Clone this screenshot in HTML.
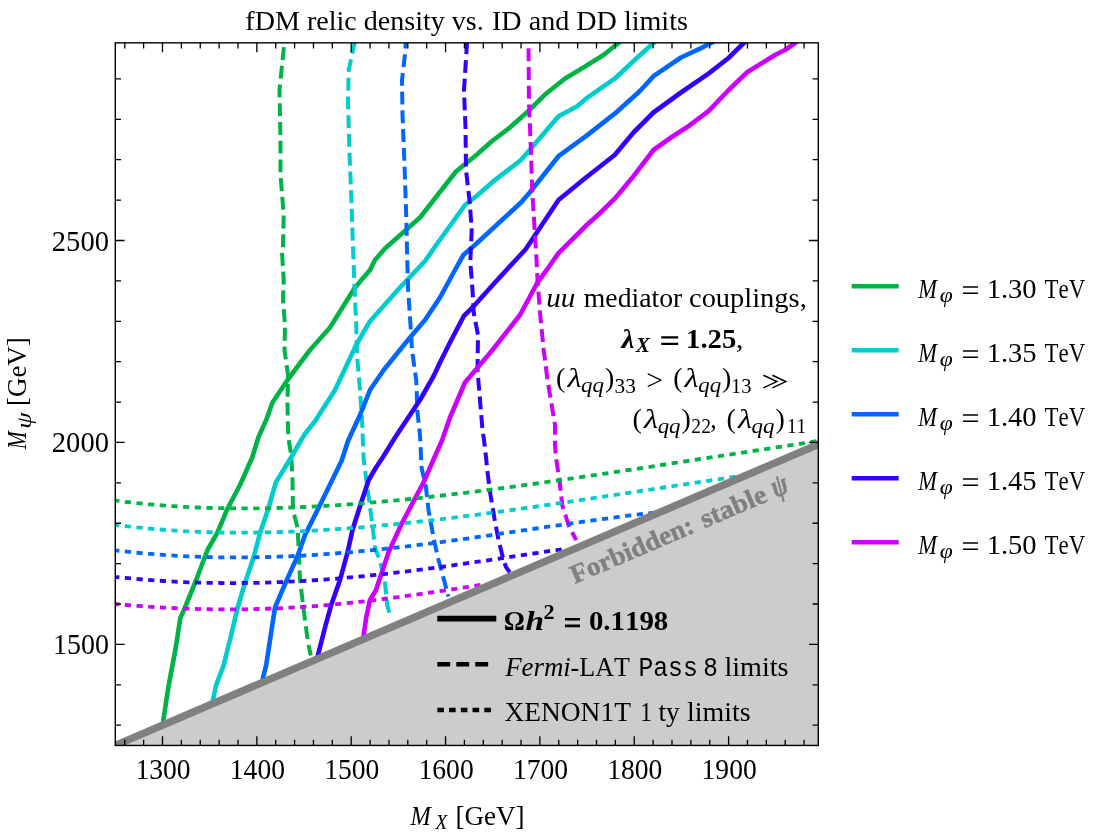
<!DOCTYPE html>
<html><head><meta charset="utf-8"><title>fDM relic density</title>
<style>html,body{margin:0;padding:0;background:#fff}svg{display:block;will-change:transform}text{font-family:"Liberation Serif",serif;fill:#000;font-kerning:none}.it{font-style:italic}.b{font-weight:bold}.sans{font-family:"Liberation Sans",sans-serif}.mono{font-family:"Liberation Mono",monospace}</style></head><body>
<svg width="1104" height="840" viewBox="0 0 1104 840">
<rect width="1104" height="840" fill="#fff"/>
<defs><clipPath id="cp"><rect x="115.3" y="42.9" width="703.0" height="702.6"/></clipPath></defs>
<g clip-path="url(#cp)" fill="none" stroke-linejoin="round">
<path d="M284.5,40.0 L284.3,43.0 L279.5,90.0 L280.5,140.0 L280.5,175.0 L283.7,215.0 L283.0,246.0 L282.0,252.5 L283.7,280.0 L283.0,300.0 L285.0,325.0 L284.5,350.0 L288.0,375.0 L287.5,405.0 L288.0,430.0 L288.7,440.0 L291.2,455.0 L292.5,480.0 L293.0,510.0 L297.5,527.5 L298.7,550.0 L300.0,580.0 L303.7,610.0 L308.0,642.5 L310.8,655.5" stroke="#00b347" stroke-width="4.0" stroke-dasharray="12.90 5.85" stroke-dashoffset="11.55"/>
<path d="M161.8,732.0 L163.0,722.5 L168.3,687.5 L175.8,647.5 L180.3,618.0 L185.0,607.5 L196.2,580.0 L207.5,550.0 L217.5,532.5 L227.5,508.7 L240.0,485.0 L252.0,458.0 L258.5,437.0 L266.2,420.0 L272.5,402.5 L287.5,380.0 L310.0,350.0 L330.0,327.5 L355.0,287.5 L370.0,270.0 L375.0,260.0 L385.0,248.5 L420.0,217.5 L456.0,171.5 L477.0,154.5 L491.5,141.5 L508.5,128.7 L528.5,111.0 L546.0,93.7 L564.7,78.7 L583.5,67.5 L603.5,55.0 L618.5,43.0 L623.0,39.0" stroke="#00b347" stroke-width="4.65"/>
<path d="M355.0,40.0 L354.5,43.0 L348.7,70.0 L348.0,102.5 L349.5,152.5 L351.5,202.5 L353.0,247.5 L354.5,287.5 L356.2,325.0 L357.0,355.0 L360.0,390.0 L362.0,420.0 L363.7,460.0 L368.7,497.5 L372.5,525.0 L375.0,548.0 L379.7,560.0 L384.7,580.0 L387.2,605.0 L391.0,618.0" stroke="#00cccc" stroke-width="4.0" stroke-dasharray="12.90 5.85" stroke-dashoffset="17.84"/>
<path d="M211.0,712.0 L212.5,702.0 L216.2,685.0 L223.7,665.0 L231.2,635.0 L237.5,608.0 L245.0,583.0 L253.5,557.5 L260.2,532.5 L268.7,507.5 L275.8,482.5 L290.3,458.7 L301.2,440.0 L305.0,433.7 L315.0,421.2 L335.0,390.0 L356.2,345.0 L370.0,321.2 L400.0,287.5 L425.0,261.2 L433.0,249.5 L465.0,205.0 L476.0,196.5 L493.5,181.2 L521.0,160.0 L529.7,150.0 L558.5,116.2 L577.2,106.2 L586.0,98.7 L614.7,78.7 L636.0,58.7 L653.5,43.0 L658.0,39.0" stroke="#00cccc" stroke-width="4.65"/>
<path d="M405.5,40.0 L405.5,50.0 L402.0,80.0 L402.5,115.0 L404.5,165.0 L406.2,215.0 L407.0,250.0 L408.0,287.5 L410.5,325.0 L412.0,350.0 L416.2,380.0 L417.5,412.5 L420.0,435.0 L420.5,445.0 L421.5,467.5 L426.0,487.5 L428.5,510.0 L434.0,540.0 L438.5,560.0 L444.7,582.5 L448.3,596.5" stroke="#0066ff" stroke-width="4.0" stroke-dasharray="12.90 5.85" stroke-dashoffset="4.40"/>
<path d="M261.0,692.0 L262.5,680.0 L266.2,665.0 L270.0,640.0 L275.0,607.5 L285.0,584.0 L297.5,556.2 L305.0,535.0 L320.0,505.0 L341.5,461.0 L348.0,441.0 L360.0,415.0 L370.0,390.0 L383.7,370.0 L410.0,337.5 L425.0,320.0 L440.0,297.5 L455.0,270.0 L463.3,255.0 L476.0,244.0 L521.0,202.5 L529.7,192.5 L558.5,156.2 L586.0,136.2 L614.7,113.7 L639.7,91.2 L653.5,76.2 L681.0,57.5 L700.0,48.7 L711.0,43.0 L719.0,39.0" stroke="#0066ff" stroke-width="4.65"/>
<path d="M467.2,40.0 L467.0,43.0 L464.0,90.0 L465.5,127.5 L466.0,170.0 L469.8,203.0 L471.7,230.0 L470.3,262.0 L472.5,290.0 L473.7,312.5 L478.0,335.0 L477.5,370.0 L480.0,400.0 L482.5,430.0 L484.0,440.0 L486.2,458.7 L487.2,470.0 L490.5,495.0 L494.7,520.0 L498.5,540.0 L503.5,560.0 L506.0,567.0 L509.8,572.3" stroke="#3300ff" stroke-width="4.0" stroke-dasharray="12.90 5.85" stroke-dashoffset="17.43"/>
<path d="M315.5,668.0 L317.5,657.0 L325.0,627.5 L331.2,605.0 L340.0,580.0 L347.5,552.5 L352.5,530.0 L361.2,502.5 L368.7,480.0 L376.0,467.5 L383.0,457.0 L393.5,440.0 L400.0,430.0 L420.0,400.0 L433.7,376.0 L440.0,362.5 L450.0,342.5 L463.7,316.2 L472.5,307.5 L495.0,282.5 L525.5,249.5 L558.5,200.0 L586.0,177.5 L614.7,155.0 L633.5,132.5 L653.5,112.5 L681.0,92.5 L708.5,73.7 L728.5,58.0 L743.7,43.0 L748.0,39.0" stroke="#3300ff" stroke-width="4.65"/>
<path d="M528.5,40.0 L528.5,43.0 L529.0,102.5 L531.0,152.5 L532.2,190.0 L534.7,230.0 L536.2,253.7 L537.5,280.0 L540.0,312.5 L543.7,350.0 L547.5,380.0 L555.0,425.0 L555.0,445.0 L556.0,457.5 L559.7,482.5 L562.2,505.0 L568.5,525.0 L576.2,540.2" stroke="#cc00ff" stroke-width="4.0" stroke-dasharray="12.90 5.85" stroke-dashoffset="10.50"/>
<path d="M363.5,646.0 L363.7,635.0 L366.2,617.5 L370.0,600.0 L376.0,590.0 L388.5,552.5 L401.0,525.0 L423.5,482.5 L434.2,458.0 L442.2,440.0 L450.0,417.5 L465.0,382.5 L492.5,350.0 L520.0,315.0 L537.5,282.5 L546.7,270.0 L558.3,253.3 L586.7,225.0 L598.5,214.5 L614.7,198.7 L633.5,176.2 L653.5,150.0 L671.0,137.5 L688.5,126.2 L708.5,111.2 L728.7,90.0 L747.5,71.9 L765.0,61.2 L775.0,55.0 L785.0,50.0 L795.0,43.0 L800.0,39.0" stroke="#cc00ff" stroke-width="4.65"/>
<path d="M113.2,500.2 L125.2,501.8 L137.2,503.1 L149.2,504.3 L161.2,505.3 L173.1,506.2 L185.1,506.9 L197.1,507.5 L209.1,507.9 L221.1,508.2 L233.1,508.4 L245.1,508.4 L257.1,508.4 L269.0,508.2 L281.0,507.9 L293.0,507.5 L305.0,507.0 L317.0,506.4 L329.0,505.7 L341.0,504.9 L353.0,504.1 L365.0,503.1 L376.9,502.1 L388.9,501.1 L400.9,499.9 L412.9,498.7 L424.9,497.4 L436.9,496.1 L448.9,494.7 L460.9,493.3 L472.8,491.9 L484.8,490.4 L496.8,488.8 L508.8,487.2 L520.8,485.6 L532.8,484.0 L544.8,482.3 L556.8,480.6 L568.7,478.9 L580.7,477.1 L592.7,475.4 L604.7,473.6 L616.7,471.8 L628.7,470.0 L640.7,468.2 L652.7,466.4 L664.7,464.5 L676.6,462.7 L688.6,460.9 L700.6,459.0 L712.6,457.2 L724.6,455.3 L736.6,453.5 L748.6,451.6 L760.6,449.8 L772.5,448.0 L784.5,446.1 L796.5,444.3 L808.5,442.5 L820.5,440.6" stroke="#00b347" stroke-width="3.8" stroke-dasharray="6.2 5.5" stroke-dashoffset="0.0"/>
<path d="M113.2,524.5 L123.8,525.9 L134.4,527.1 L145.0,528.2 L155.6,529.2 L166.1,530.0 L176.7,530.7 L187.3,531.3 L197.9,531.8 L208.5,532.2 L219.1,532.5 L229.7,532.6 L240.3,532.7 L250.9,532.6 L261.5,532.5 L272.0,532.3 L282.6,532.0 L293.2,531.6 L303.8,531.1 L314.4,530.6 L325.0,529.9 L335.6,529.2 L346.2,528.5 L356.8,527.7 L367.4,526.8 L377.9,525.8 L388.5,524.8 L399.1,523.8 L409.7,522.7 L420.3,521.5 L430.9,520.3 L441.5,519.1 L452.1,517.8 L462.7,516.5 L473.3,515.2 L483.8,513.8 L494.4,512.4 L505.0,510.9 L515.6,509.5 L526.2,508.0 L536.8,506.5 L547.4,505.0 L558.0,503.4 L568.6,501.9 L579.2,500.3 L589.7,498.7 L600.3,497.1 L610.9,495.5 L621.5,493.9 L632.1,492.3 L642.7,490.7 L653.3,489.1 L663.9,487.5 L674.5,485.9 L685.1,484.3 L695.6,482.7 L706.2,481.1 L716.8,479.5 L727.4,477.9 L738.0,476.4" stroke="#00cccc" stroke-width="3.8" stroke-dasharray="6.2 5.5" stroke-dashoffset="0.0"/>
<path d="M113.2,550.2 L122.4,551.2 L131.6,552.2 L140.8,553.1 L150.0,553.9 L159.2,554.6 L168.3,555.3 L177.5,555.8 L186.7,556.3 L195.9,556.7 L205.1,557.0 L214.3,557.2 L223.5,557.4 L232.7,557.4 L241.9,557.4 L251.1,557.4 L260.3,557.2 L269.5,557.0 L278.6,556.7 L287.8,556.3 L297.0,555.9 L306.2,555.4 L315.4,554.9 L324.6,554.2 L333.8,553.6 L343.0,552.8 L352.2,552.1 L361.4,551.2 L370.6,550.3 L379.8,549.4 L388.9,548.4 L398.1,547.4 L407.3,546.3 L416.5,545.2 L425.7,544.1 L434.9,542.9 L444.1,541.7 L453.3,540.4 L462.5,539.2 L471.7,537.9 L480.9,536.6 L490.1,535.3 L499.2,533.9 L508.4,532.6 L517.6,531.2 L526.8,529.9 L536.0,528.5 L545.2,527.2 L554.4,525.8 L563.6,524.5 L572.8,523.2 L582.0,521.9 L591.2,520.6 L600.4,519.3 L609.5,518.1 L618.7,516.9 L627.9,515.7 L637.1,514.6 L646.3,513.5 L655.5,512.5" stroke="#0066ff" stroke-width="3.8" stroke-dasharray="6.2 5.5" stroke-dashoffset="0.0"/>
<path d="M113.2,576.7 L120.8,577.5 L128.5,578.2 L136.1,578.9 L143.8,579.6 L151.4,580.2 L159.0,580.7 L166.7,581.2 L174.3,581.6 L182.0,582.0 L189.6,582.3 L197.2,582.6 L204.9,582.8 L212.5,582.9 L220.2,583.0 L227.8,583.1 L235.5,583.1 L243.1,583.0 L250.7,582.9 L258.4,582.8 L266.0,582.6 L273.7,582.3 L281.3,582.1 L288.9,581.7 L296.6,581.3 L304.2,580.9 L311.9,580.4 L319.5,579.9 L327.1,579.4 L334.8,578.8 L342.4,578.1 L350.1,577.4 L357.7,576.7 L365.3,576.0 L373.0,575.2 L380.6,574.4 L388.3,573.5 L395.9,572.6 L403.5,571.7 L411.2,570.8 L418.8,569.8 L426.5,568.8 L434.1,567.8 L441.7,566.8 L449.4,565.8 L457.0,564.7 L464.7,563.6 L472.3,562.5 L480.0,561.4 L487.6,560.3 L495.2,559.2 L502.9,558.0 L510.5,556.9 L518.2,555.7 L525.8,554.6 L533.4,553.5 L541.1,552.4 L548.7,551.2 L556.4,550.1 L564.0,549.0" stroke="#3300ff" stroke-width="3.8" stroke-dasharray="6.2 5.5" stroke-dashoffset="0.0"/>
<path d="M113.2,603.9 L119.5,604.4 L125.8,605.0 L132.1,605.5 L138.3,605.9 L144.6,606.4 L150.9,606.8 L157.2,607.2 L163.5,607.6 L169.8,607.9 L176.0,608.2 L182.3,608.5 L188.6,608.7 L194.9,608.9 L201.2,609.1 L207.5,609.2 L213.8,609.3 L220.0,609.4 L226.3,609.4 L232.6,609.4 L238.9,609.4 L245.2,609.3 L251.5,609.2 L257.7,609.0 L264.0,608.8 L270.3,608.6 L276.6,608.4 L282.9,608.1 L289.2,607.7 L295.5,607.4 L301.7,607.0 L308.0,606.6 L314.3,606.1 L320.6,605.6 L326.9,605.1 L333.2,604.5 L339.5,603.9 L345.7,603.3 L352.0,602.7 L358.3,602.0 L364.6,601.3 L370.9,600.6 L377.2,599.8 L383.4,599.0 L389.7,598.2 L396.0,597.4 L402.3,596.6 L408.6,595.7 L414.9,594.8 L421.2,593.9 L427.4,593.0 L433.7,592.1 L440.0,591.2 L446.3,590.2 L452.6,589.3 L458.9,588.3 L465.1,587.4 L471.4,586.4 L477.7,585.4 L484.0,584.5" stroke="#cc00ff" stroke-width="3.8" stroke-dasharray="6.2 5.5" stroke-dashoffset="0.0"/>
<path d="M105.9,749.4 L832.4,438.4 L832.4,749.4 Z" fill="#cccccc" stroke="none"/>
<path d="M105.9,749.4 L832.4,438.4" stroke="#808080" stroke-width="7.5"/>
</g>
<g stroke="#000" fill="none">
<path d="M124.76,42.85 v5.7 M124.76,745.45 v-5.7 M143.63,42.85 v5.7 M143.63,745.45 v-5.7 M162.50,42.85 v9.3 M162.50,745.45 v-9.3 M181.37,42.85 v5.7 M181.37,745.45 v-5.7 M200.24,42.85 v5.7 M200.24,745.45 v-5.7 M219.11,42.85 v5.7 M219.11,745.45 v-5.7 M237.98,42.85 v5.7 M237.98,745.45 v-5.7 M256.85,42.85 v9.3 M256.85,745.45 v-9.3 M275.72,42.85 v5.7 M275.72,745.45 v-5.7 M294.59,42.85 v5.7 M294.59,745.45 v-5.7 M313.46,42.85 v5.7 M313.46,745.45 v-5.7 M332.33,42.85 v5.7 M332.33,745.45 v-5.7 M351.20,42.85 v9.3 M351.20,745.45 v-9.3 M370.07,42.85 v5.7 M370.07,745.45 v-5.7 M388.94,42.85 v5.7 M388.94,745.45 v-5.7 M407.81,42.85 v5.7 M407.81,745.45 v-5.7 M426.68,42.85 v5.7 M426.68,745.45 v-5.7 M445.55,42.85 v9.3 M445.55,745.45 v-9.3 M464.42,42.85 v5.7 M464.42,745.45 v-5.7 M483.29,42.85 v5.7 M483.29,745.45 v-5.7 M502.16,42.85 v5.7 M502.16,745.45 v-5.7 M521.03,42.85 v5.7 M521.03,745.45 v-5.7 M539.90,42.85 v9.3 M539.90,745.45 v-9.3 M558.77,42.85 v5.7 M558.77,745.45 v-5.7 M577.64,42.85 v5.7 M577.64,745.45 v-5.7 M596.51,42.85 v5.7 M596.51,745.45 v-5.7 M615.38,42.85 v5.7 M615.38,745.45 v-5.7 M634.25,42.85 v9.3 M634.25,745.45 v-9.3 M653.12,42.85 v5.7 M653.12,745.45 v-5.7 M671.99,42.85 v5.7 M671.99,745.45 v-5.7 M690.86,42.85 v5.7 M690.86,745.45 v-5.7 M709.73,42.85 v5.7 M709.73,745.45 v-5.7 M728.60,42.85 v9.3 M728.60,745.45 v-9.3 M747.47,42.85 v5.7 M747.47,745.45 v-5.7 M766.34,42.85 v5.7 M766.34,745.45 v-5.7 M785.21,42.85 v5.7 M785.21,745.45 v-5.7 M804.08,42.85 v5.7 M804.08,745.45 v-5.7 M115.30,725.18 h5.7 M818.30,725.18 h-5.7 M115.30,684.79 h5.7 M818.30,684.79 h-5.7 M115.30,644.40 h9.3 M818.30,644.40 h-9.3 M115.30,604.01 h5.7 M818.30,604.01 h-5.7 M115.30,563.62 h5.7 M818.30,563.62 h-5.7 M115.30,523.23 h5.7 M818.30,523.23 h-5.7 M115.30,482.84 h5.7 M818.30,482.84 h-5.7 M115.30,442.45 h9.3 M818.30,442.45 h-9.3 M115.30,402.06 h5.7 M818.30,402.06 h-5.7 M115.30,361.67 h5.7 M818.30,361.67 h-5.7 M115.30,321.28 h5.7 M818.30,321.28 h-5.7 M115.30,280.89 h5.7 M818.30,280.89 h-5.7 M115.30,240.50 h9.3 M818.30,240.50 h-9.3 M115.30,200.11 h5.7 M818.30,200.11 h-5.7 M115.30,159.72 h5.7 M818.30,159.72 h-5.7 M115.30,119.33 h5.7 M818.30,119.33 h-5.7 M115.30,78.94 h5.7 M818.30,78.94 h-5.7" stroke-width="1.3"/>
<rect x="115.30" y="42.85" width="703.00" height="702.60" stroke-width="1.4"/>
</g>
<text transform="translate(135.48,778.70) scale(0.9853,1.0750)" font-size="28.0">1300</text>
<text transform="translate(229.83,778.70) scale(0.9853,1.0750)" font-size="28.0">1400</text>
<text transform="translate(324.18,778.70) scale(0.9853,1.0750)" font-size="28.0">1500</text>
<text transform="translate(418.53,778.70) scale(0.9853,1.0750)" font-size="28.0">1600</text>
<text transform="translate(512.88,778.70) scale(0.9853,1.0750)" font-size="28.0">1700</text>
<text transform="translate(607.23,778.70) scale(0.9853,1.0750)" font-size="28.0">1800</text>
<text transform="translate(701.58,778.70) scale(0.9853,1.0750)" font-size="28.0">1900</text>
<text transform="translate(52.94,654.40) scale(1.0005,1.0750)" font-size="28.0">1500</text>
<text transform="translate(51.84,452.45) scale(1.0204,1.0750)" font-size="28.0">2000</text>
<text transform="translate(51.84,250.50) scale(1.0204,1.0750)" font-size="28.0">2500</text>
<text transform="translate(245.34,29.50) scale(1.0023,1.0000)" font-size="28.0">fDM relic density vs.</text>
<text transform="translate(491.98,29.50) scale(1.0042,1.0000)" font-size="28.0">ID and DD limits</text>
<text transform="translate(410.59,824.90) scale(0.8702,1.0000)" font-size="28.0" class="it">M</text>
<text transform="translate(435.54,829.30) scale(0.9685,1.0000)" font-size="20.0" class="it">X</text>
<text transform="translate(455.39,824.90) scale(0.9679,1.0000)" font-size="28.0">[GeV]</text>
<text transform="translate(26.30,449.50) rotate(-90.00) translate(0.25,0.00) scale(0.7699,1.0000)" font-size="28.0" class="it">M</text>
<text transform="translate(26.30,449.50) rotate(-90.00) translate(20.63,4.40) scale(1.3202,1.0000)" font-size="20.0" class="it">ψ</text>
<text transform="translate(26.30,449.50) rotate(-90.00) translate(43.50,0.00) scale(0.9620,1.0000)" font-size="28.0">[GeV]</text>
<text transform="translate(546.15,307.40) scale(1.0393,1.0000)" font-size="28.0" class="it">uu</text>
<text transform="translate(583.82,307.40) scale(0.9890,1.0000)" font-size="28.0">mediator</text>
<text transform="translate(689.02,307.40) scale(1.0163,1.0000)" font-size="28.0">couplings,</text>
<text transform="translate(621.60,348.00) scale(1.0426,1.0000)" font-size="28.0" class="it b">λ</text>
<text transform="translate(635.64,351.80) scale(1.0661,1.0000)" font-size="20.0" class="it b">X</text>
<path d="M661.2,337.30 H678.2 M661.2,343.90 H678.2" stroke="#000" stroke-width="2.30" fill="none"/>
<text transform="translate(686.10,348.00) scale(1.0255,1.0000)" font-size="28.0" class="b">1.25</text>
<text transform="translate(735.82,348.00) scale(1.1031,1.0000)" font-size="28.0">,</text>
<text transform="translate(555.97,387.40) scale(1.0000,1.0000)" font-size="28.0">(</text>
<text transform="translate(567.39,387.40) scale(1.1558,1.0000)" font-size="28.0" class="it">λ</text>
<text transform="translate(581.04,392.00) scale(1.1448,1.0000)" font-size="20.0" class="it">qq</text>
<text transform="translate(604.90,387.40) scale(1.0000,1.0000)" font-size="28.0">)</text>
<text transform="translate(614.58,392.50) scale(1.0678,1.0000)" font-size="20.0">33</text>
<text transform="translate(646.28,389.60) scale(1.0668,1.0800)" font-size="28.0">&gt;</text>
<text transform="translate(673.17,387.40) scale(1.0000,1.0000)" font-size="28.0">(</text>
<text transform="translate(684.59,387.40) scale(1.1558,1.0000)" font-size="28.0" class="it">λ</text>
<text transform="translate(698.24,392.00) scale(1.1448,1.0000)" font-size="20.0" class="it">qq</text>
<text transform="translate(722.10,387.40) scale(1.0000,1.0000)" font-size="28.0">)</text>
<text transform="translate(731.01,392.50) scale(1.0194,1.0000)" font-size="20.0">13</text>
<path d="M763.4,375.3 l13.4,6.3 l-13.4,6.3 M772.4,375.3 l13.4,6.3 l-13.4,6.3" fill="none" stroke="#000" stroke-width="1.5" stroke-linejoin="miter"/>
<text transform="translate(632.57,428.00) scale(1.0000,1.0000)" font-size="28.0">(</text>
<text transform="translate(643.99,428.00) scale(1.1558,1.0000)" font-size="28.0" class="it">λ</text>
<text transform="translate(657.64,432.60) scale(1.1448,1.0000)" font-size="20.0" class="it">qq</text>
<text transform="translate(681.50,428.00) scale(1.0000,1.0000)" font-size="28.0">)</text>
<text transform="translate(691.34,433.10) scale(0.9824,1.0000)" font-size="20.0">22</text>
<text transform="translate(710.23,428.00) scale(0.9113,1.0000)" font-size="28.0">,</text>
<text transform="translate(726.47,428.00) scale(1.0000,1.0000)" font-size="28.0">(</text>
<text transform="translate(737.89,428.00) scale(1.1558,1.0000)" font-size="28.0" class="it">λ</text>
<text transform="translate(751.54,432.60) scale(1.1448,1.0000)" font-size="20.0" class="it">qq</text>
<text transform="translate(775.40,428.00) scale(1.0000,1.0000)" font-size="28.0">)</text>
<text transform="translate(786.90,433.10) scale(0.9683,1.0000)" font-size="20.0">11</text>
<text transform="translate(575.10,583.70) rotate(-23.20) translate(-0.47,0.00) scale(1.0258,1.0000)" font-size="26.6" class="b" style="fill:#808080;stroke:#808080;stroke-width:0.45px">Forbidden:</text>
<text transform="translate(575.10,583.70) rotate(-23.20) translate(140.76,0.00) scale(1.0491,1.0000)" font-size="26.6" class="b" style="fill:#808080;stroke:#808080;stroke-width:0.45px">stable</text>
<text transform="translate(575.10,583.70) rotate(-23.20) translate(218.32,0.00) scale(0.9023,1.1800)" font-size="26.6" class="it b" style="fill:#808080;stroke:#808080;stroke-width:0.45px">ψ</text>
<g stroke="#000" fill="none">
<path d="M437.3,618.6 H496.3" stroke-width="5.6"/>
<path d="M437.3,664.3 H488.5" stroke-width="4.6" stroke-dasharray="12.9 6.1"/>
<path d="M437.3,710 H491" stroke-width="4.3" stroke-dasharray="6.6 5.15"/>
</g>
<text transform="translate(503.81,630.00) scale(0.9394,1.0000)" font-size="28.0" class="b">Ω</text>
<text transform="translate(525.55,630.00) scale(1.1958,1.0000)" font-size="28.0" class="it b">h</text>
<text transform="translate(543.57,618.70) scale(1.1083,1.0000)" font-size="20.0" class="b">2</text>
<path d="M565.0,619.30 H580.0 M565.0,625.90 H580.0" stroke="#000" stroke-width="2.60" fill="none"/>
<text transform="translate(588.90,630.00) scale(1.0306,1.0000)" font-size="28.0" class="b">0.1198</text>
<text transform="translate(505.14,675.50) scale(0.9597,1.0000)" font-size="28.0" class="it">Fermi</text>
<text transform="translate(570.53,675.50) scale(0.9318,1.0000)" font-size="28.0">-LAT</text>
<text transform="translate(638.44,675.50) scale(0.9165,1.0000)" font-size="27.0" class="mono">Pass</text>
<text transform="translate(703.22,675.50) scale(0.8998,1.0000)" font-size="27.0" class="mono">8</text>
<text transform="translate(724.44,675.50) scale(1.0045,1.0000)" font-size="28.0">limits</text>
<text transform="translate(504.40,720.50) scale(0.9804,1.0000)" font-size="28.0">XENON1T</text>
<text transform="translate(640.15,720.50) scale(0.8319,1.0000)" font-size="28.0">1</text>
<text transform="translate(658.43,720.50) scale(0.9768,1.0000)" font-size="28.0">ty</text>
<text transform="translate(686.94,720.50) scale(0.9965,1.0000)" font-size="28.0">limits</text>
<path d="M851.7,286.2 H898.7" stroke="#00b347" stroke-width="4.6" fill="none"/>
<text transform="translate(918.26,297.50) scale(0.8020,1.0000)" font-size="28.0" class="it">M</text>
<text transform="translate(939.80,301.90) scale(1.1792,1.0000)" font-size="20.0" class="it">φ</text>
<path d="M963.0,287.00 H978.0 M963.0,293.20 H978.0" stroke="#000" stroke-width="1.60" fill="none"/>
<text transform="translate(986.69,297.50) scale(1.0182,1.0000)" font-size="28.0">1.30</text>
<text transform="translate(1044.59,297.50) scale(0.8175,1.0000)" font-size="28.0">TeV</text>
<path d="M851.7,350.2 H898.7" stroke="#00cccc" stroke-width="4.6" fill="none"/>
<text transform="translate(918.26,361.50) scale(0.8020,1.0000)" font-size="28.0" class="it">M</text>
<text transform="translate(939.80,365.90) scale(1.1792,1.0000)" font-size="20.0" class="it">φ</text>
<path d="M963.0,351.00 H978.0 M963.0,357.20 H978.0" stroke="#000" stroke-width="1.60" fill="none"/>
<text transform="translate(986.69,361.50) scale(1.0188,1.0000)" font-size="28.0">1.35</text>
<text transform="translate(1044.59,361.50) scale(0.8175,1.0000)" font-size="28.0">TeV</text>
<path d="M851.7,414.2 H898.7" stroke="#0066ff" stroke-width="4.6" fill="none"/>
<text transform="translate(918.26,425.50) scale(0.8020,1.0000)" font-size="28.0" class="it">M</text>
<text transform="translate(939.80,429.90) scale(1.1792,1.0000)" font-size="20.0" class="it">φ</text>
<path d="M963.0,415.00 H978.0 M963.0,421.20 H978.0" stroke="#000" stroke-width="1.60" fill="none"/>
<text transform="translate(986.69,425.50) scale(1.0182,1.0000)" font-size="28.0">1.40</text>
<text transform="translate(1044.59,425.50) scale(0.8175,1.0000)" font-size="28.0">TeV</text>
<path d="M851.7,478.2 H898.7" stroke="#3300ff" stroke-width="4.6" fill="none"/>
<text transform="translate(918.26,489.50) scale(0.8020,1.0000)" font-size="28.0" class="it">M</text>
<text transform="translate(939.80,493.90) scale(1.1792,1.0000)" font-size="20.0" class="it">φ</text>
<path d="M963.0,479.00 H978.0 M963.0,485.20 H978.0" stroke="#000" stroke-width="1.60" fill="none"/>
<text transform="translate(986.69,489.50) scale(1.0188,1.0000)" font-size="28.0">1.45</text>
<text transform="translate(1044.59,489.50) scale(0.8175,1.0000)" font-size="28.0">TeV</text>
<path d="M851.7,542.2 H898.7" stroke="#cc00ff" stroke-width="4.6" fill="none"/>
<text transform="translate(918.26,553.50) scale(0.8020,1.0000)" font-size="28.0" class="it">M</text>
<text transform="translate(939.80,557.90) scale(1.1792,1.0000)" font-size="20.0" class="it">φ</text>
<path d="M963.0,543.00 H978.0 M963.0,549.20 H978.0" stroke="#000" stroke-width="1.60" fill="none"/>
<text transform="translate(986.69,553.50) scale(1.0182,1.0000)" font-size="28.0">1.50</text>
<text transform="translate(1044.59,553.50) scale(0.8175,1.0000)" font-size="28.0">TeV</text>
</svg></body></html>
